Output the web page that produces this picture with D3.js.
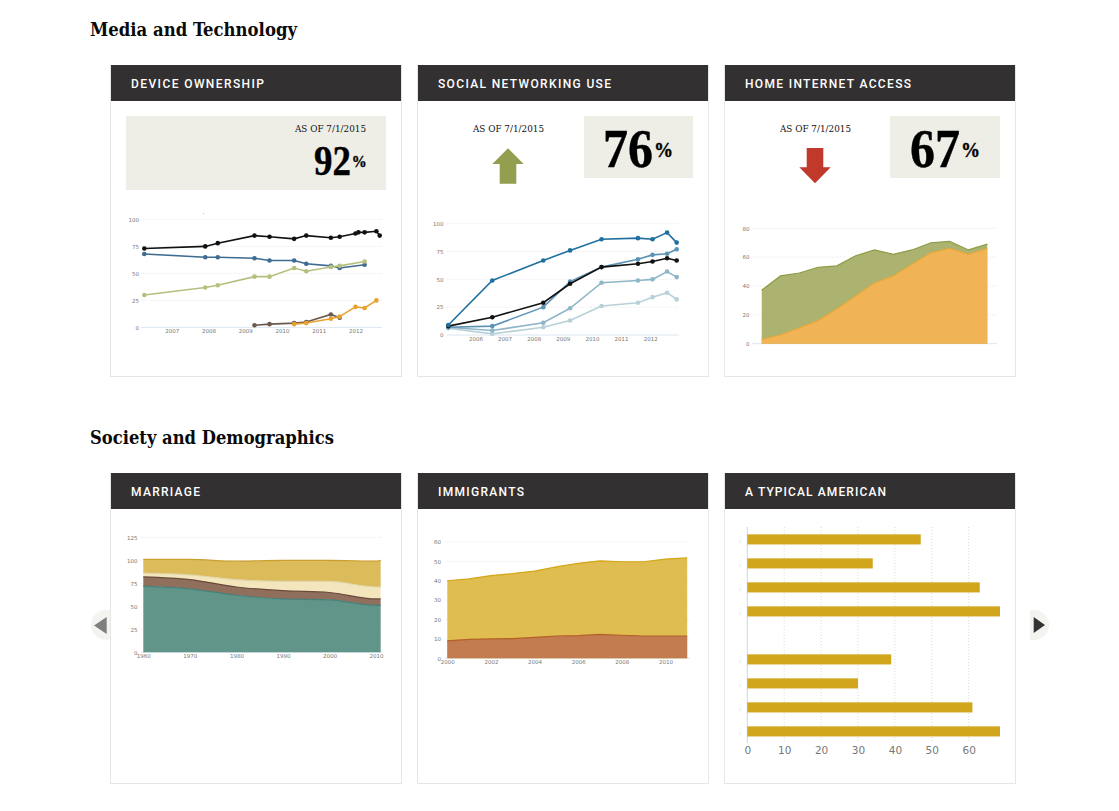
<!DOCTYPE html>
<html>
<head>
<meta charset="utf-8">
<title>Dashboard</title>
<script src="https://cdn.jsdelivr.net/npm/d3@7"></script>
<style>
body { margin: 0; background: #fff; }
svg { display: block; }
.serif { font-family: "Liberation Serif", "DejaVu Serif", serif; }
.slab { font-family: "DejaVu Serif Condensed", "DejaVu Serif", serif; font-stretch: condensed; }
.tick text { font-family: "DejaVu Sans", sans-serif; fill: #777; }
</style>
</head>
<body>
<div id="chart"></div>
<script>
// device ownership
var deviceYears = [2006.25, 2007.91, 2008.25, 2009.25, 2009.66, 2010.33, 2010.66, 2011.33, 2011.57, 2012.0, 2012.08, 2012.25, 2012.57, 2012.66];
var deviceBlack = [73, 75, 78, 85, 84, 82, 85, 83, 84, 87, 88, 88, 89, 85];
var deviceBlueYears = [2006.25, 2007.91, 2008.25, 2009.25, 2009.66, 2010.33, 2010.66, 2011.33, 2011.57, 2012.25];
var deviceBlue = [68, 65, 65, 64, 62, 62, 59, 57, 55, 58];
var deviceGreen = [30, 37, 39, 47, 47, 55, 52, 56, 57, 61];
var deviceBrownYears = [2009.25, 2009.66, 2010.33, 2010.66, 2011.33, 2011.57];
var deviceBrown = [2, 3, 4, 5, 12, 9];
var deviceOrangeYears = [2010.33, 2010.66, 2011.33, 2011.57, 2012.0, 2012.25, 2012.57];
var deviceOrange = [3, 4, 8, 10, 19, 18, 25];
var deviceTicks = [2007, 2008, 2009, 2010, 2011, 2012];

// social networking
var socialYears = [2005.07, 2006.58, 2008.33, 2009.25, 2010.33, 2011.58, 2012.08, 2012.58, 2012.91];
var socialDark = [9, 49, 67, 76, 86, 87, 86, 92, 83];
var socialBlack = [8, 16, 29, 46, 61, 64, 66, 69, 67];
var socialMid = [7, 8, 25, 48, 61, 68, 72, 73, 77];
var socialLight = [7, 4, 11, 24, 47, 49, 50, 57, 52];
var socialPale = [6, 1, 7, 13, 26, 29, 34, 38, 32];
var socialTicks = [2006, 2007, 2008, 2009, 2010, 2011, 2012];

// home internet (no x labels in the picture, so just survey order)
var homeSurvey = [0, 1, 2, 3, 4, 5, 6, 7, 8, 9, 10, 11, 12];
var homeGreen = [37, 47, 49, 53, 54, 61, 65, 62, 65, 70, 71, 65, 69];
var homeOrange = [3, 6, 11, 16, 24, 33, 42, 47, 55, 63, 66, 62, 66];

// marriage
var marriageYears = [1960, 1970, 1980, 1990, 2000, 2010, 2011];
var marriageTeal = [72, 69, 62, 58, 57, 51, 51];
var marriageBrown = [10, 10, 9, 9, 8, 7, 7];
var marriageCream = [4, 5, 8, 10, 12, 13, 13];
var marriageYellow = [15, 17, 20, 23, 23, 28, 29];
var marriageTicks = [1960, 1970, 1980, 1990, 2000, 2010];

// immigrants
var immigrantYears = [2000, 2001, 2002, 2003, 2004, 2005, 2006, 2007, 2008, 2009, 2010, 2011];
var immigrantTotal = [40, 41, 42.7, 43.7, 45, 47.2, 49, 50.3, 49.8, 49.8, 51.2, 51.8];
var immigrantPart = [9, 9.8, 10, 10.2, 10.8, 11.5, 11.7, 12.3, 11.9, 11.5, 11.5, 11.5];
var immigrantTicks = [2000, 2002, 2004, 2006, 2008, 2010];

// typical american, slot 4 is the empty gap between the two groups
var typicalSlots = [0, 1, 2, 3, 5, 6, 7, 8];
var typicalValues = [47, 34, 63, 70, 39, 30, 61, 70];
var typicalTicks = [0, 10, 20, 30, 40, 50, 60];

var svg = d3.select("#chart").append("svg").attr("width", 1119).attr("height", 811);

function heading(label, y, width) {
    svg.append("text").attr("class", "slab").attr("x", 90).attr("y", y)
        .attr("font-size", 19).attr("font-weight", "bold").attr("fill", "#0a0a0a")
        .attr("textLength", width).attr("lengthAdjust", "spacingAndGlyphs").text(label);
}

function card(x, y, w, h, label, labelWidth) {
    svg.append("rect").attr("x", x + 0.5).attr("y", y + 0.5).attr("width", w).attr("height", h)
        .attr("fill", "#fff").attr("stroke", "#e6e6e6");
    svg.append("rect").attr("x", x + 1).attr("y", y).attr("width", w - 1).attr("height", 36).attr("fill", "#333031");
    svg.append("text").attr("x", x + 21).attr("y", y + 23)
        .attr("font-family", "Roboto, sans-serif").attr("font-weight", 500).attr("font-size", 12)
        .attr("fill", "#fff").attr("textLength", labelWidth).text(label);
}

// number and % share one text element, squeezed a bit like the original face
function stat(box, asOf, big) {
    svg.append("rect").attr("x", box[0]).attr("y", box[1]).attr("width", box[2]).attr("height", box[3]).attr("fill", "#eeeee6");
    svg.append("text").attr("class", "slab").attr("x", asOf).attr("y", 131.5).attr("font-size", 10)
        .attr("fill", "#111").attr("textLength", 71).attr("lengthAdjust", "spacingAndGlyphs").text("AS OF 7/1/2015");
    var t = svg.append("text").attr("class", "serif")
        .attr("transform", "translate(" + big.x + "," + big.y + ") scale(" + big.sx + ",1)")
        .attr("font-weight", "bold").attr("fill", "#000").attr("stroke", "#000").attr("stroke-width", 0.4);
    t.append("tspan").attr("font-size", big.size).text(big.text);
    t.append("tspan").attr("font-size", big.pctSize).attr("dx", 1).attr("dy", big.pctUp).text("%");
}

// y axis with dotted gridlines and a pale baseline
function yAxis(y, ticks, x0, x1, labelX, size) {
    var g = svg.append("g").attr("transform", "translate(" + labelX + ",0)")
        .call(d3.axisLeft(y).tickValues(ticks).tickSize(0).tickPadding(0));
    g.select(".domain").remove();
    g.selectAll("text").attr("font-size", size);
    svg.append("g").selectAll("line").data(ticks).enter().append("line")
        .attr("x1", x0).attr("x2", x1)
        .attr("y1", function (d) { return y(d); }).attr("y2", function (d) { return y(d); })
        .attr("stroke", function (d) { return d == 0 ? "#dde6f0" : "#ececec"; })
        .attr("stroke-dasharray", function (d) { return d == 0 ? null : "1,1"; });
}

function xAxis(x, ticks, yPos, size) {
    var g = svg.append("g").attr("transform", "translate(0," + yPos + ")")
        .call(d3.axisBottom(x).tickValues(ticks).tickSize(0).tickPadding(0).tickFormat(d3.format("d")));
    g.select(".domain").remove();
    g.selectAll("text").attr("font-size", size);
}

function lineSeries(x, y, xs, ys, color, r) {
    var pts = ys.map(function (v, i) { return [xs[i], v]; });
    var line = d3.line().x(function (d) { return x(d[0]); }).y(function (d) { return y(d[1]); });
    svg.append("path").datum(pts).attr("d", line).attr("fill", "none").attr("stroke", color).attr("stroke-width", 1.6);
    svg.append("g").selectAll("circle").data(pts).enter().append("circle")
        .attr("cx", function (d) { return x(d[0]); }).attr("cy", function (d) { return y(d[1]); })
        .attr("r", r).attr("fill", color);
}

function areaSeries(x, y, xs, lo, hi, fill, stroke, curve) {
    var pts = xs.map(function (v, i) { return { x: v, lo: lo ? lo[i] : 0, hi: hi[i] }; });
    var area = d3.area().x(function (d) { return x(d.x); })
        .y0(function (d) { return y(d.lo); }).y1(function (d) { return y(d.hi); }).curve(curve);
    var top = d3.line().x(function (d) { return x(d.x); }).y(function (d) { return y(d.hi); }).curve(curve);
    svg.append("path").datum(pts).attr("d", area).attr("fill", fill);
    svg.append("path").datum(pts).attr("d", top).attr("fill", "none").attr("stroke", stroke).attr("stroke-width", 1.2);
}

heading("Media and Technology", 36, 207);
heading("Society and Demographics", 444, 244);

card(110, 65, 291, 311, "DEVICE OWNERSHIP", 133);
card(417, 65, 291, 311, "SOCIAL NETWORKING USE", 173);
card(724, 65, 291, 311, "HOME INTERNET ACCESS", 166);
card(110, 473, 291, 310, "MARRIAGE", 69);
card(417, 473, 291, 310, "IMMIGRANTS", 86);
card(724, 473, 291, 310, "A TYPICAL AMERICAN", 141);

stat([126, 116, 260, 74], 295, { text: "92", x: 314, y: 175, size: 42, sx: 0.88, pctSize: 17, pctUp: -8 });
stat([584, 116, 109, 62], 473, { text: "76", x: 603, y: 167, size: 55, sx: 0.91, pctSize: 21, pctUp: -10 });
stat([890, 116, 110, 62], 780, { text: "67", x: 910, y: 167, size: 55, sx: 0.91, pctSize: 21, pctUp: -10 });

svg.append("path").attr("d", "M508,148.3L523.7,164H516.3V183.7H499.7V164H492.3Z").attr("fill", "#939f4e");
svg.append("path").attr("d", "M806.7,148H823.3V167.3H830.7L815,183.3L799.3,167.3H806.7Z").attr("fill", "#c0392b");
svg.append("rect").attr("x", 203).attr("y", 213).attr("width", 1).attr("height", 1).attr("fill", "#bbb");

// device ownership chart
var x1 = d3.scaleLinear().domain([2006.25, 2012.66]).range([144.3, 379.7]);
var y1 = d3.scaleLinear().domain([0, 100]).range([327.4, 219.4]);
yAxis(y1, [0, 25, 50, 75, 100], 141, 382, 139, 5.5);
xAxis(x1, deviceTicks, 329.5, 5.5);
lineSeries(x1, y1, deviceYears, deviceBlack, "#111", 2.3);
lineSeries(x1, y1, deviceBlueYears, deviceBlue, "#3e6b8f", 2.3);
lineSeries(x1, y1, deviceBlueYears, deviceGreen, "#b5c07f", 2.3);
lineSeries(x1, y1, deviceBrownYears, deviceBrown, "#6b5a4e", 2.3);
lineSeries(x1, y1, deviceOrangeYears, deviceOrange, "#e8a32e", 2.3);

// social networking chart
var x2 = d3.scaleLinear().domain([2005.07, 2012.91]).range([448.3, 676.7]);
var y2 = d3.scaleLinear().domain([0, 100]).range([335, 223.7]);
yAxis(y2, [0, 25, 50, 75, 100], 447, 679, 443.5, 5.5);
xAxis(x2, socialTicks, 337, 5.5);
lineSeries(x2, y2, socialYears, socialPale, "#b8d0d8", 2.3);
lineSeries(x2, y2, socialYears, socialLight, "#8fb5c8", 2.3);
lineSeries(x2, y2, socialYears, socialMid, "#5c93b5", 2.3);
lineSeries(x2, y2, socialYears, socialBlack, "#111", 2.3);
lineSeries(x2, y2, socialYears, socialDark, "#1f6f9f", 2.3);

// home internet chart
var x3 = d3.scaleLinear().domain([0, 12]).range([761.7, 987.3]);
var y3 = d3.scaleLinear().domain([0, 80]).range([343.7, 228.3]);
yAxis(y3, [0, 20, 40, 60, 80], 752, 997, 749.5, 5.5);
areaSeries(x3, y3, homeSurvey, null, homeGreen, "#acb26f", "#8f9b45", d3.curveLinear);
areaSeries(x3, y3, homeSurvey, null, homeOrange, "#f0b457", "#e8a93a", d3.curveLinear);

// marriage chart
var x4 = d3.scaleLinear().domain([1960, 2010]).range([143.3, 376]);
var y4 = d3.scaleLinear().domain([0, 125]).range([652.3, 537.3]);
yAxis(y4, [0, 25, 50, 75, 100, 125], 141, 383, 137.5, 5.5);
var marriageStack = d3.stack().keys([0, 1, 2, 3]).value(function (d, k) { return d[k]; })(
    marriageYears.map(function (y, i) { return [marriageTeal[i], marriageBrown[i], marriageCream[i], marriageYellow[i]]; }));
var marriageFill = ["#62958a", "#90705d", "#f3e6bd", "#dcbb5b"];
var marriageLine = ["#46807a", "#6a4a3a", "#e0d5a8", "#c9a02e"];
for (var m = 3; m >= 0; m--) {
    areaSeries(x4, y4, marriageYears, marriageStack[m].map(function (d) { return d[0]; }),
        marriageStack[m].map(function (d) { return d[1]; }), marriageFill[m], marriageLine[m], d3.curveMonotoneX);
}
xAxis(x4, marriageTicks, 654.5, 5.5);

// immigrants chart
var x5 = d3.scaleLinear().domain([2000, 2011]).range([447.3, 687.2]);
var y5 = d3.scaleLinear().domain([0, 60]).range([658.3, 542]);
yAxis(y5, [0, 10, 20, 30, 40, 50, 60], 445, 690, 441, 5.5);
areaSeries(x5, y5, immigrantYears, null, immigrantTotal, "#dfbd50", "#d4a514", d3.curveLinear);
areaSeries(x5, y5, immigrantYears, null, immigrantPart, "#c27c4f", "#b4602a", d3.curveLinear);
xAxis(x5, immigrantTicks, 660, 5.5);

// typical american bars, clipped at the card's inner edge as in the picture
var x6 = d3.scaleLinear().domain([0, 60]).range([747.3, 968.7]);
var y6 = d3.scaleBand().domain(d3.range(9)).range([527.4, 743.4]).paddingInner(0.58).paddingOuter(0.29);
var defs = svg.append("defs");
defs.append("clipPath").attr("id", "barClip").append("rect")
    .attr("x", 747).attr("y", 520).attr("width", 253).attr("height", 230);
defs.append("clipPath").attr("id", "nextClip").append("rect")
    .attr("x", 1030).attr("y", 600).attr("width", 30).attr("height", 50);
svg.append("g").selectAll("line").data(typicalTicks.slice(1)).enter().append("line")
    .attr("x1", function (d) { return x6(d); }).attr("x2", function (d) { return x6(d); })
    .attr("y1", 527).attr("y2", 743).attr("stroke", "#d8d8d8").attr("stroke-dasharray", "1,2");
svg.append("line").attr("x1", x6(0)).attr("x2", x6(0)).attr("y1", 527).attr("y2", 743).attr("stroke", "#c5d8e6");
svg.append("g").attr("clip-path", "url(#barClip)").selectAll("rect").data(typicalValues).enter().append("rect")
    .attr("x", x6(0))
    .attr("y", function (d, i) { return y6(typicalSlots[i]); })
    .attr("width", function (d) { return x6(d) - x6(0); })
    .attr("height", y6.bandwidth())
    .attr("fill", "#d1a61c");
svg.append("g").selectAll("rect").data(typicalSlots).enter().append("rect")
    .attr("x", 739.7).attr("width", 0.8).attr("height", 2.5)
    .attr("y", function (d) { return y6(d) + y6.bandwidth() / 2 + 1; })
    .attr("fill", "#cfe3ea");
var g6 = svg.append("g").attr("transform", "translate(0,747)")
    .call(d3.axisBottom(x6).tickValues(typicalTicks).tickSize(0).tickPadding(0));
g6.select(".domain").remove();
g6.selectAll("text").attr("font-size", 10.5);

// carousel buttons, both cut off on the side facing the cards
var prev = svg.insert("g", ":first-child");
prev.append("circle").attr("cx", 106).attr("cy", 625).attr("r", 15).attr("fill", "#f3f3ef");
svg.append("path").attr("d", "M94,625.5L106.7,617V634Z").attr("fill", "#7f7f7f");
svg.append("circle").attr("cx", 1034).attr("cy", 625).attr("r", 15).attr("fill", "#f3f3ef")
    .attr("clip-path", "url(#nextClip)");
svg.append("path").attr("d", "M1045,625L1033.7,617V633Z").attr("fill", "#333");
</script>
</body>
</html>
